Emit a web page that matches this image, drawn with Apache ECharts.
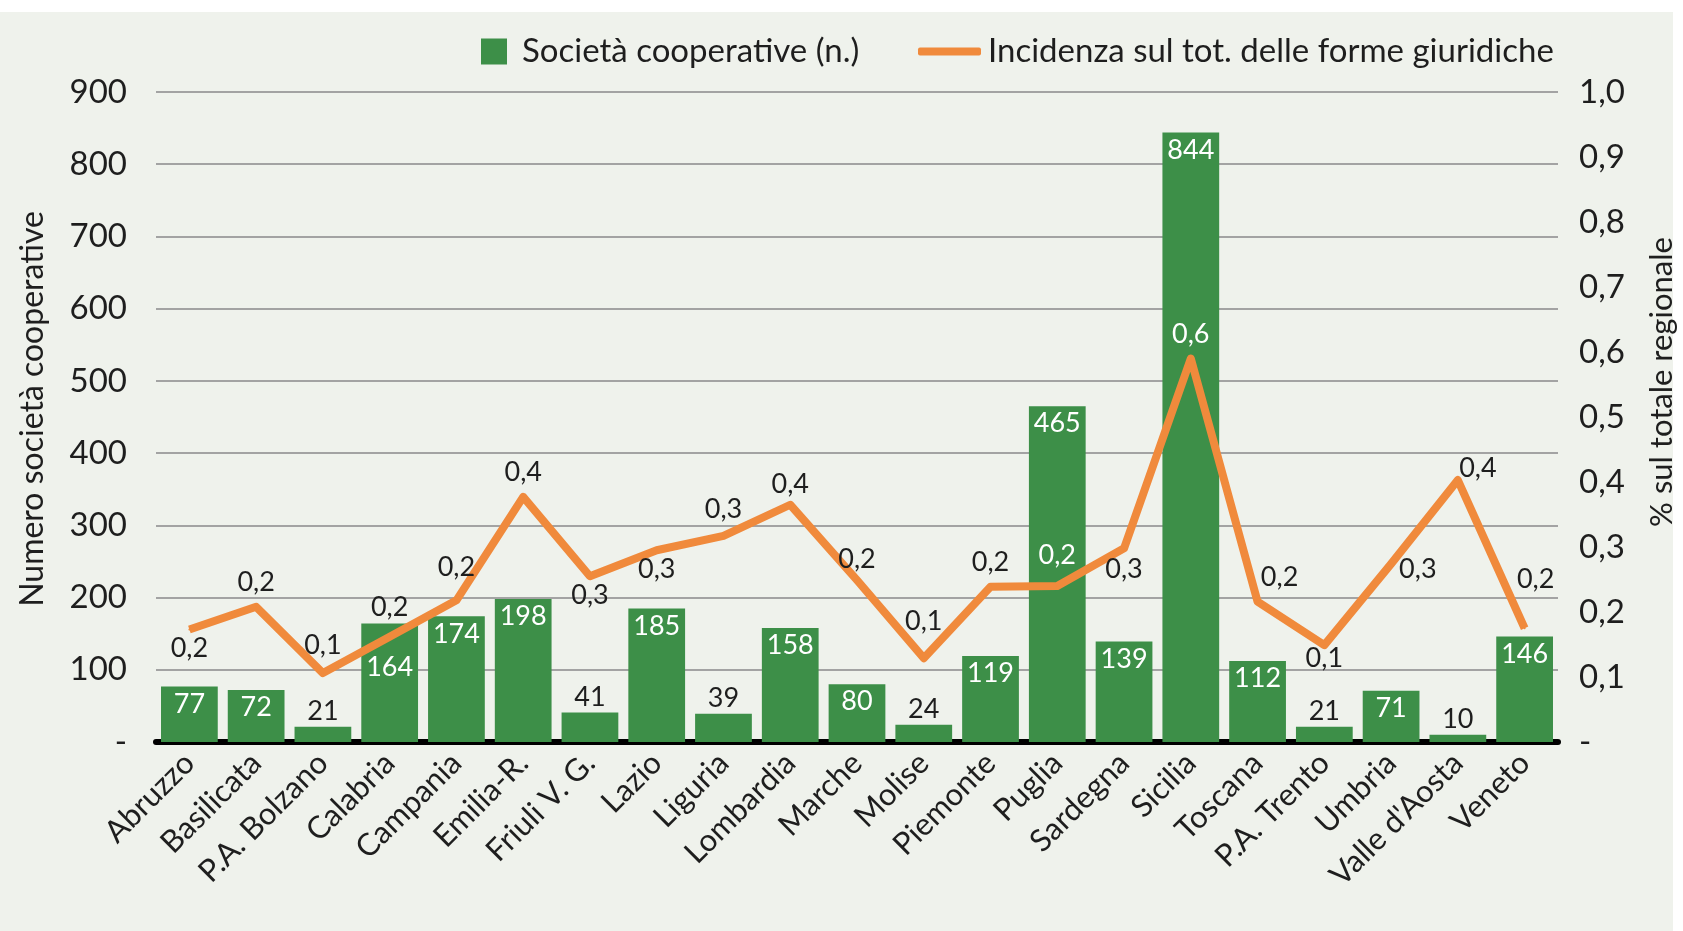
<!DOCTYPE html>
<html>
<head>
<meta charset="utf-8">
<script src="https://cdn.jsdelivr.net/npm/echarts@6/dist/echarts.min.js"></script>
<style>
  body { margin: 0; background: #ffffff; }
  #sfondo { position: absolute; left: 0; top: 12px; width: 1673px; height: 919px; background: #eff2ec; }
  #grafico { position: absolute; left: 0; top: 0; width: 1683px; height: 931px; }
</style>
</head>
<body>
<div id="sfondo"></div>
<div id="grafico"></div>
<script>
// regioni (asse x)
const regioni = ["Abruzzo", "Basilicata", "P.A. Bolzano", "Calabria", "Campania", "Emilia-R.",
  "Friuli V. G.", "Lazio", "Liguria", "Lombardia", "Marche", "Molise", "Piemonte", "Puglia",
  "Sardegna", "Sicilia", "Toscana", "P.A. Trento", "Umbria", "Valle d'Aosta", "Veneto"];
// società cooperative (n.)
const cooperative = [77, 72, 21, 164, 174, 198, 41, 185, 39, 158, 80, 24, 119, 465, 139, 844, 112, 21, 71, 10, 146];
// incidenza sul totale delle forme giuridiche (%)
const incidenza = [0.173, 0.208, 0.106, 0.162, 0.218, 0.377, 0.255, 0.295, 0.317, 0.365, 0.249,
  0.129, 0.239, 0.24, 0.298, 0.59, 0.216, 0.149, 0.274, 0.403, 0.175];

// posizione delle etichette della linea
const posEtichette = ["bottom", "top", "top", "top", "top", "top", "bottom", "bottom", "top", "top", "top",
  "top", "top", "top", "bottom", "top", "top", "bottom", "right", "top", "top"];
// piccoli spostamenti delle etichette della linea
const spostamenti = {
  "Abruzzo": [0, -6], "P.A. Bolzano": [0, -3], "Calabria": [0, -5], "Campania": [0, -9],
  "Friuli V. G.": [0, -5], "Lazio": [0, -5], "Liguria": [0, -2], "Lombardia": [0, 4],
  "Marche": [0, 4], "Molise": [0, -12], "Puglia": [0, -6], "Sardegna": [0, -4],
  "Toscana": [22, 0], "P.A. Trento": [0, -11], "Umbria": [-3, 5], "Valle d'Aosta": [20, 13],
  "Veneto": [11, -24]
};

const VERDE = "#3d8f48";
const ARANCIO = "#f08a3c";
const TESTO = "#1e1e1e";
const FONT = "Lato";

const virgola = v => v.toFixed(1).replace(".", ",");

const datiBarre = cooperative.map((v, i) => {
  const lab = v >= 50
    ? { position: "insideTop", color: "#ffffff", distance: 4 }
    : { position: "top", color: TESTO, distance: 2 };
  // etichetta di Calabria spostata sotto la linea
  if (regioni[i] === "Calabria") lab.offset = [0, 26];
  return { value: v, label: lab };
});

const datiLinea = incidenza.map((v, i) => {
  const bianco = regioni[i] === "Puglia" || regioni[i] === "Sicilia";
  return { value: v, label: { position: posEtichette[i], color: bianco ? "#ffffff" : TESTO } };
});

const myChart = echarts.init(document.getElementById("grafico"));

const option = {
  backgroundColor: "transparent",
  textStyle: { fontFamily: FONT },
  legend: [
    {
      data: ["Società cooperative (n.)"],
      left: 476, top: 30,
      icon: "rect",
      itemWidth: 26, itemHeight: 26,
      textStyle: { fontFamily: FONT, fontSize: 33, color: TESTO, padding: [0, 0, 0, 10] }
    },
    {
      data: ["Incidenza sul tot. delle forme giuridiche"],
      left: 913, top: 30,
      icon: "roundRect",
      itemWidth: 63, itemHeight: 8,
      textStyle: { fontFamily: FONT, fontSize: 33, color: TESTO, padding: [0, 0, 0, 2] }
    }
  ],
  grid: { left: 156, right: 125, top: 92, bottom: 189, containLabel: false, outerBoundsMode: "none" },
  xAxis: {
    type: "category",
    data: regioni,
    axisLine: { lineStyle: { color: "#000000", width: 6 } },
    axisTick: { show: false },
    axisLabel: {
      rotate: 45, interval: 0, margin: 16,
      fontFamily: FONT, fontSize: 31, color: TESTO
    }
  },
  yAxis: [
    {
      type: "value", min: 0, max: 900, interval: 100,
      name: "Numero società cooperative",
      nameLocation: "middle", nameGap: 107, nameRotate: 90,
      nameTextStyle: { fontFamily: FONT, fontSize: 32, color: TESTO, padding: [0, 0, 0, 16] },
      axisLine: { show: false }, axisTick: { show: false },
      axisLabel: {
        margin: 29, fontFamily: FONT, fontSize: 33, color: TESTO,
        formatter: v => (v === 0 ? "-" : String(v))
      },
      splitLine: { lineStyle: { color: "#a3a3a3", width: 2 } }
    },
    {
      type: "value", min: 0, max: 1, interval: 0.1,
      name: "% sul totale regionale",
      nameLocation: "middle", nameGap: 88, nameRotate: 90,
      nameTextStyle: { fontFamily: FONT, fontSize: 31, color: TESTO, padding: [0, 0, 0, 70] },
      axisLine: { show: false }, axisTick: { show: false },
      axisLabel: {
        margin: 21, fontFamily: FONT, fontSize: 33, color: TESTO,
        formatter: v => (v === 0 ? "-" : virgola(v))
      },
      splitLine: { show: false }
    }
  ],
  series: [
    {
      name: "Società cooperative (n.)",
      type: "bar",
      data: datiBarre,
      barCategoryGap: "15%",
      itemStyle: { color: VERDE },
      label: { show: true, fontFamily: FONT, fontSize: 27 },
      z: 2
    },
    {
      name: "Incidenza sul tot. delle forme giuridiche",
      type: "line",
      yAxisIndex: 1,
      data: datiLinea,
      symbol: "circle",
      symbolSize: 2,
      showSymbol: true,
      lineStyle: { color: ARANCIO, width: 8, join: "round" },
      itemStyle: { color: ARANCIO },
      label: {
        show: true, fontFamily: FONT, fontSize: 27, distance: 10,
        formatter: p => virgola(p.value)
      },
      labelLayout: p => {
        const s = spostamenti[regioni[p.dataIndex]] || [0, 0];
        return { dx: s[0], dy: s[1], hideOverlap: false };
      },
      z: 3
    }
  ]
};

myChart.setOption(option);
</script>
</body>
</html>
